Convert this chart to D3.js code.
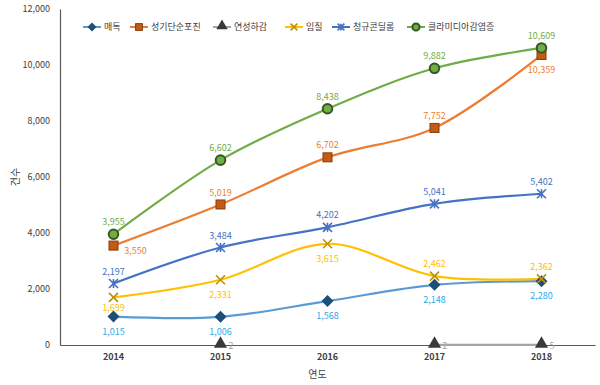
<!DOCTYPE html>
<html>
<head>
<meta charset="utf-8">
<script src="https://cdn.jsdelivr.net/npm/d3@7"></script>
<style>
  body { margin: 0; background: #fff; }
  text { font-family: "Noto Sans CJK KR", "Noto Sans", sans-serif; }
</style>
</head>
<body>
<div id="chart"></div>
<script>
// data
const years = ["2014", "2015", "2016", "2017", "2018"];
const yTicks = [0, 2000, 4000, 6000, 8000, 10000, 12000];

const syphilis = [1015, 1006, 1568, 2148, 2280];      // 매독
const herpes = [3550, 5019, 6702, 7752, 10359];       // 성기단순포진
const chancroid = [null, 2, null, 2, 5];              // 연성하감
const gonorrhea = [1699, 2331, 3615, 2462, 2362];     // 임질
const condyloma = [2197, 3484, 4202, 5041, 5402];     // 첨규콘딜롬
const chlamydia = [3955, 6602, 8438, 9882, 10609];    // 클라미디아감염증

const series = [
  { name: "매독", values: syphilis, line: "#5b9bd5", fill: "#1f4e79", stroke: "#1f4e79", label: "#2eaae6", shape: "diamond", pos: ["b", "b", "b", "b", "b"] },
  { name: "성기단순포진", values: herpes, line: "#ed7d31", fill: "#c55a11", stroke: "#843c0c", label: "#ed7d31", shape: "square", pos: ["r", "a", "a", "a", "b"] },
  { name: "연성하감", values: chancroid, line: "#a5a5a5", fill: "#3a3a3a", stroke: "#3a3a3a", label: "#a5a5a5", shape: "triangle", pos: ["g", "g", "g", "g", "g"] },
  { name: "임질", values: gonorrhea, line: "#ffc000", fill: "none", stroke: "#bf9000", label: "#ffc000", shape: "x", pos: ["bs", "b", "b", "a", "a"] },
  { name: "청규콘딜롬", values: condyloma, line: "#4472c4", fill: "none", stroke: "#4472c4", label: "#4472c4", shape: "star", pos: ["a", "a", "a", "a", "a"] },
  { name: "클라미디아감염증", values: chlamydia, line: "#70ad47", fill: "#70ad47", stroke: "#375623", label: "#70ad47", shape: "circle", pos: ["a", "a", "a", "a", "a"] }
];

const W = 600, H = 385;
const margin = { top: 9, right: 5, bottom: 40, left: 60 };
const width = W - margin.left - margin.right;
const height = H - margin.top - margin.bottom;

const svg = d3.select("#chart").append("svg")
  .attr("width", W).attr("height", H)
  .append("g")
  .attr("transform", `translate(${margin.left},${margin.top})`);

const x = d3.scaleBand().domain(years).range([0, width]);
const y = d3.scaleLinear().domain([0, 12000]).range([height, 0]);
const cx = (i) => x(years[i]) + x.bandwidth() / 2;

//=========================== AXES ===========================
const yAxis = svg.append("g")
  .call(d3.axisLeft(y).tickValues(yTicks).tickSize(0).tickPadding(10).tickFormat(d3.format(",")));
yAxis.select(".domain").attr("stroke", "#595959").attr("stroke-width", 1.2);
yAxis.selectAll("text").attr("font-size", 9).attr("fill", "#404040");

const xAxis = svg.append("g")
  .attr("transform", `translate(0,${height})`)
  .call(d3.axisBottom(x).tickSize(0).tickPadding(9));
xAxis.select(".domain").attr("stroke", "#595959").attr("stroke-width", 1.2);
xAxis.selectAll("text").attr("font-size", 9).attr("font-weight", "bold").attr("fill", "#404040");

svg.append("text")
  .attr("x", width / 2 - 10).attr("y", height + 33)
  .attr("text-anchor", "middle").attr("font-size", 10).attr("fill", "#404040")
  .text("연도");

svg.append("text")
  .attr("transform", `translate(${15 - margin.left},${y(6000)}) rotate(-90)`)
  .attr("text-anchor", "middle").attr("dy", "0.35em").attr("font-size", 10).attr("fill", "#404040")
  .text("건수");

//=========================== MARKERS ===========================
function drawMarker(g, s, px, py, scale) {
  const k = scale || 1;
  if (s.shape === "diamond") {
    const r = 6 * k;
    g.append("path").attr("d", `M${px},${py - r}L${px + r},${py}L${px},${py + r}L${px - r},${py}Z`)
      .attr("fill", s.fill);
  } else if (s.shape === "square") {
    g.append("rect").attr("x", px - 4.5 * k).attr("y", py - 4.5 * k)
      .attr("width", 9 * k).attr("height", 9 * k)
      .attr("fill", s.fill).attr("stroke", s.stroke).attr("stroke-width", 1);
  } else if (s.shape === "triangle") {
    g.append("path").attr("d", d3.symbol(d3.symbolTriangle, 75 * k)())
      .attr("transform", `translate(${px},${py - 1})`).attr("fill", s.fill);
  } else if (s.shape === "x") {
    const r = 4.5 * k;
    g.append("path").attr("d", `M${px - r},${py - r}L${px + r},${py + r}M${px - r},${py + r}L${px + r},${py - r}`)
      .attr("stroke", s.stroke).attr("stroke-width", 1.6);
  } else if (s.shape === "star") {
    const r = 4.5 * k;
    g.append("path").attr("d", `M${px - r},${py - r}L${px + r},${py + r}M${px - r},${py + r}L${px + r},${py - r}M${px},${py - r}L${px},${py + r}`)
      .attr("stroke", s.stroke).attr("stroke-width", 1.6);
  } else if (s.shape === "circle") {
    g.append("circle").attr("cx", px).attr("cy", py).attr("r", 4.8 * k)
      .attr("fill", s.fill).attr("stroke", s.stroke).attr("stroke-width", 2);
  }
}

//=========================== LINES ===========================
const line = d3.line()
  .defined((d) => d != null)
  .x((d, i) => cx(i))
  .y((d) => y(d))
  .curve(d3.curveCatmullRom.alpha(0.5));

series.forEach((s) => {
  svg.append("path").datum(s.values)
    .attr("fill", "none").attr("stroke", s.line).attr("stroke-width", 2.2)
    .attr("d", line);
});

series.forEach((s) => {
  const g = svg.append("g");
  s.values.forEach((v, i) => {
    if (v == null) return;
    drawMarker(g, s, cx(i), y(v));
  });
  s.values.forEach((v, i) => {
    if (v == null) return;
    let lx = cx(i), ly = y(v), anchor = "middle";
    const p = s.pos[i];
    if (p === "a") ly -= 12;
    else if (p === "b") ly += 15;
    else if (p === "bs") ly += 10;
    else if (p === "r") { lx += 22; ly += 5; }
    else if (p === "g") { lx += 8; ly += 1; anchor = "start"; }
    g.append("text").attr("x", lx).attr("y", ly).attr("dy", "0.35em")
      .attr("text-anchor", anchor).attr("font-size", 9).attr("fill", s.label)
      .text(d3.format(",")(v));
  });
});

//=========================== LEGEND ===========================
const legendX = [23, 70, 153, 225, 272, 347];
const legend = svg.append("g").attr("transform", `translate(0,${27 - margin.top})`);
series.forEach((s, i) => {
  const lg = legend.append("g").attr("transform", `translate(${legendX[i]},0)`);
  lg.append("line").attr("x1", 0).attr("x2", 18).attr("y1", 0).attr("y2", 0)
    .attr("stroke", s.line).attr("stroke-width", 2);
  drawMarker(lg, s, 9, 0, 0.75);
  lg.append("text").attr("x", 21).attr("y", 0).attr("dy", "0.35em")
    .attr("font-size", 9).attr("fill", "#404040").text(s.name);
});
</script>
</body>
</html>
